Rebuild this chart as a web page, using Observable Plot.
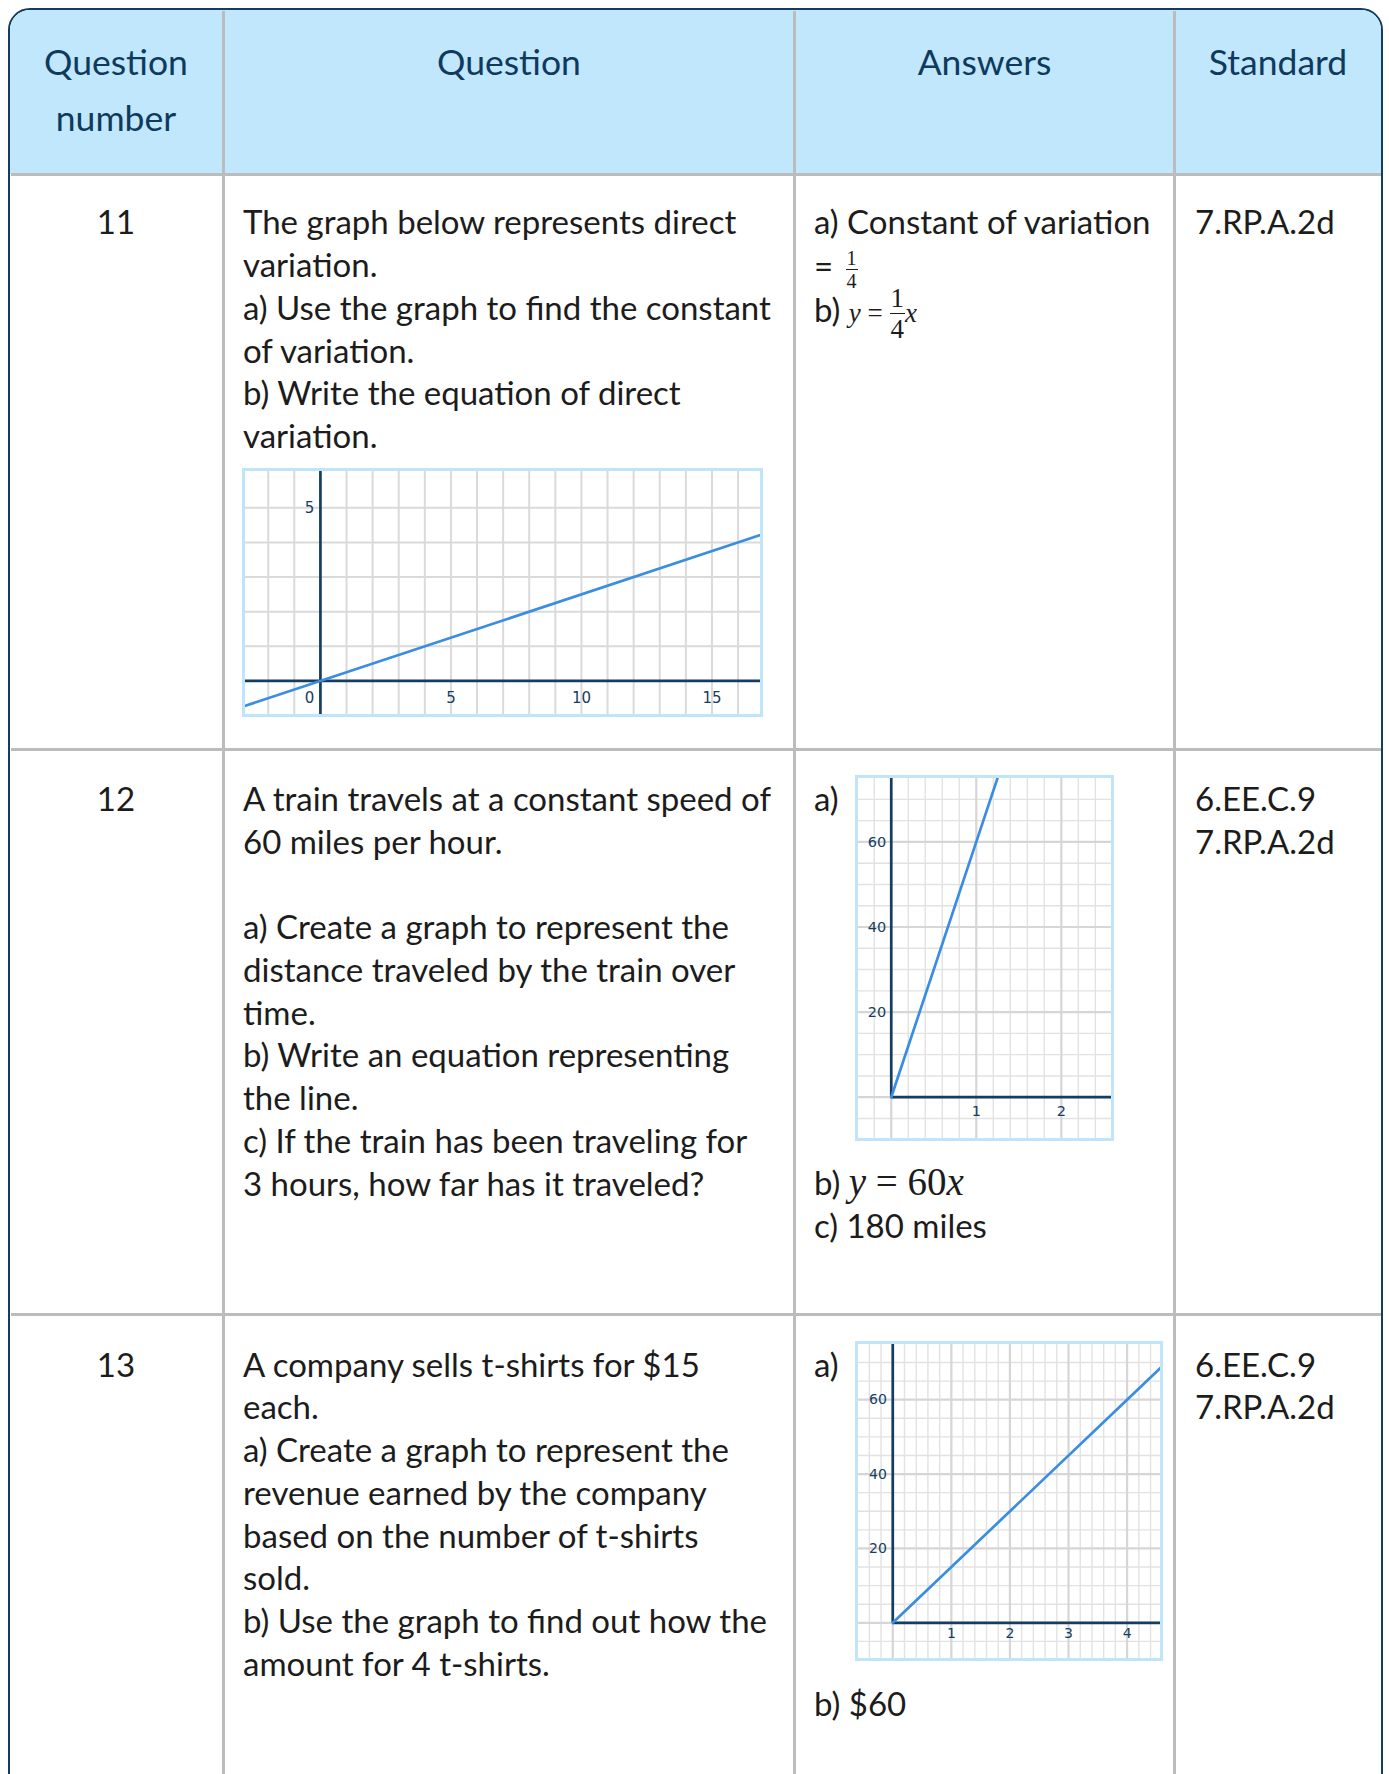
<!DOCTYPE html>
<html><head><meta charset="utf-8">
<script src="https://cdn.jsdelivr.net/npm/d3@7"></script>
<script src="https://cdn.jsdelivr.net/npm/@observablehq/plot@0.6"></script>
<style>
html,body{margin:0;padding:0;background:#fff;}
body{width:1389px;height:1774px;overflow:hidden;position:relative;font-family:Lato,"Open Sans",sans-serif;color:#1c1c1c;}
#tbl{position:absolute;left:8px;top:8px;width:1375px;height:1800px;border:2.5px solid #143c60;border-radius:22px;box-sizing:border-box;overflow:hidden;}
#hdr{position:absolute;left:0;top:0;width:100%;height:163.5px;background:#c0e7fc;}
.vd{position:absolute;width:2.5px;background:#bcbcbc;top:10.5px;height:1770px;}
.hd{position:absolute;height:2.5px;background:#bcbcbc;left:10.5px;width:1370px;}
.blk{position:absolute;white-space:pre;font-size:33px;line-height:42.7px;}
.hdt{position:absolute;white-space:pre;font-size:35.5px;line-height:56px;color:#0f3a5e;text-align:center;}
.gbox{position:absolute;border:3px solid #bfe5fb;box-sizing:border-box;background:#fff;}
.gbox svg{display:block;}
.m{font-family:"Liberation Serif","DejaVu Serif",serif;}
.mi{font-family:"Liberation Serif","DejaVu Serif",serif;font-style:italic;}
.frac{display:inline-flex;flex-direction:column;align-items:center;vertical-align:middle;font-family:"Liberation Serif",serif;}
.frac .n{border-bottom:1.3px solid #1c1c1c;padding:0 1px;}
</style>
</head><body>
<div id="tbl"><div id="hdr"></div></div>
<div class="vd" style="left:222px"></div>
<div class="vd" style="left:793px"></div>
<div class="vd" style="left:1173px"></div>
<div class="hd" style="top:173px"></div>
<div class="hd" style="top:748px"></div>
<div class="hd" style="top:1313px"></div>
<div id="content"></div>
<script>
// ---------- table text ----------
const headers = ["Question\nnumber", "Question", "Answers", "Standard"];
const questionNumbers = ["11", "12", "13"];
const questions = [
  ["The graph below represents direct", "variation.", "a) Use the graph to find the constant", "of variation.", "b) Write the equation of direct", "variation."],
  ["A train travels at a constant speed of", "60 miles per hour.", "", "a) Create a graph to represent the", "distance traveled by the train over", "time.", "b) Write an equation representing", "the line.", "c) If the train has been traveling for", "3 hours, how far has it traveled?"],
  ["A company sells t-shirts for $15", "each.", "a) Create a graph to represent the", "revenue earned by the company", "based on the number of t-shirts", "sold.", "b) Use the graph to find out how the", "amount for 4 t-shirts."]
];
const standards = [["7.RP.A.2d"], ["6.EE.C.9", "7.RP.A.2d"], ["6.EE.C.9", "7.RP.A.2d"]];

// ---------- graph data ----------
// Graph 1 (question 11): y = x/4
const g1LineX = [-3, 17];
const g1LineY = [-0.75, 4.25];
const g1GridX = [-2, -1, 0, 1, 2, 3, 4, 5, 6, 7, 8, 9, 10, 11, 12, 13, 14, 15, 16];
const g1GridY = [0, 1, 2, 3, 4, 5];
const g1XTicks = [5, 10, 15];
const g1YTicks = [5];
// Graph 2 (question 12): distance = 60 * time
const g2LineX = [0, 1, 1.3];
const g2LineY = [0, 60, 78];
const g2MinorX = [-0.2, 0.2, 0.4, 0.6, 0.8, 1.2, 1.4, 1.6, 1.8, 2.2, 2.4];
const g2MajorX = [0, 1, 2];
const g2MinorY = [-5, 5, 10, 15, 25, 30, 35, 45, 50, 55, 65, 70];
const g2MajorY = [0, 20, 40, 60];
const g2XTicks = [1, 2];
const g2YTicks = [20, 40, 60];
// Graph 3 (question 13): revenue = 15 * shirts
const g3LineX = [0, 4, 4.7];
const g3LineY = [0, 60, 70.5];
const g3MinorX = [-0.4, -0.2, 0.2, 0.4, 0.6, 0.8, 1.2, 1.4, 1.6, 1.8, 2.2, 2.4, 2.6, 2.8, 3.2, 3.4, 3.6, 3.8, 4.2, 4.4];
const g3MajorX = [0, 1, 2, 3, 4];
const g3MinorY = [-5, 5, 10, 15, 25, 30, 35, 45, 50, 55, 65, 70];
const g3MajorY = [0, 20, 40, 60];
const g3XTicks = [1, 2, 3, 4];
const g3YTicks = [20, 40, 60];

const navy = "#163d60";
const lineBlue = "#3a8de0";
const content = document.getElementById("content");

function addDiv(cls, left, top, html, extra) {
  const d = document.createElement("div");
  d.className = cls;
  d.style.left = left + "px";
  d.style.top = top + "px";
  if (extra) Object.assign(d.style, extra);
  d.innerHTML = html;
  content.appendChild(d);
  return d;
}

// headers
addDiv("hdt", 10, 34, headers[0], {width: "212px"});
addDiv("hdt", 224, 34, headers[1], {width: "570px"});
addDiv("hdt", 795, 34, headers[2], {width: "379px"});
addDiv("hdt", 1175, 34, headers[3], {width: "206px"});

const rowTops = [200.4, 777.2, 1342.7];
rowTops.forEach((t, i) => {
  addDiv("blk", 10, t, questionNumbers[i], {width: "212px", textAlign: "center"});
  addDiv("blk", 243, t, questions[i].join("\n"));
  addDiv("blk", 1195, t, standards[i].join("\n"));
});

// answers
addDiv("blk", 814, 200.4, "a) Constant of variation");
addDiv("blk", 814, 244, '= <span class="frac" style="font-size:20px;line-height:18px;margin-left:4px;"><span class="n" style="padding-bottom:2px">1</span><span style="padding-top:2px">4</span></span>');
addDiv("blk", 814, 286, 'b) <span class="mi" style="font-size:27px">y</span><span class="m" style="font-size:27px"> = </span><span class="frac" style="font-size:27px;line-height:24px;"><span class="n" style="padding-bottom:3px">1</span><span style="padding-top:3px">4</span></span><span class="mi" style="font-size:27px">x</span>');
addDiv("blk", 814, 777.2, "a)");
addDiv("blk", 814, 1160.6, 'b) <span class="mi" style="font-size:39px">y</span><span class="m" style="font-size:39px"> = 60</span><span class="mi" style="font-size:39px">x</span>');
addDiv("blk", 814, 1203.6, "c) 180 miles");
addDiv("blk", 814, 1342.7, "a)");
addDiv("blk", 814, 1681.6, "b) $60");

// ---------- graphs ----------
function graph(o) {
  const pts = o.lineX.map((x, i) => ({x, y: o.lineY[i]}));
  const marks = [
    Plot.ruleX(o.minorX, {stroke: o.minorC, strokeWidth: o.minorW}),
    Plot.ruleY(o.minorY, {stroke: o.minorC, strokeWidth: o.minorW}),
    Plot.ruleX(o.majorX, {stroke: "#d6d6d6", strokeWidth: 2.2}),
    Plot.ruleY(o.majorY, {stroke: "#d6d6d6", strokeWidth: 2.2}),
    o.fullAxes ? Plot.ruleX([0], {stroke: navy, strokeWidth: 2.7})
               : Plot.ruleX([0], {y1: 0, y2: o.yd[1], stroke: navy, strokeWidth: 2.7}),
    o.fullAxes ? Plot.ruleY([0], {stroke: navy, strokeWidth: 2.7})
               : Plot.ruleY([0], {x1: 0, x2: o.xd[1], stroke: navy, strokeWidth: 2.7}),
    Plot.line(pts, {x: "x", y: "y", stroke: lineBlue, strokeWidth: 2.7, clip: true}),
    Plot.text(o.xTicks, {x: d => d, y: () => o.xLabelY, text: d => String(d), fill: navy, fontSize: o.fs}),
    Plot.text(o.yTicks, {x: () => o.yLabelX, y: d => d, text: d => String(d), fill: navy, fontSize: o.fs, textAnchor: o.yAnchor})
  ];
  if (o.originLabel) marks.push(Plot.text(["0"], {x: () => o.yLabelX, y: () => o.xLabelY, text: d => d, fill: navy, fontSize: o.fs}));
  return Plot.plot({
    width: o.w, height: o.h, margin: 0,
    x: {domain: o.xd, axis: null}, y: {domain: o.yd, axis: null},
    style: {fontFamily: "'DejaVu Sans', Verdana, sans-serif", background: "white", color: navy},
    marks
  });
}
function place(left, top, w, h, svg) {
  const d = document.createElement("div");
  d.className = "gbox";
  Object.assign(d.style, {left: left + "px", top: top + "px", width: w + "px", height: h + "px"});
  d.appendChild(svg);
  content.appendChild(d);
}
place(242, 468, 521, 249, graph({
  w: 515, h: 243, xd: [-2.87, 16.86], yd: [-0.97, 6.05],
  minorX: g1GridX, minorY: g1GridY, majorX: [], majorY: [], minorC: "#dadada", minorW: 2,
  fullAxes: true, lineX: g1LineX, lineY: g1LineY,
  xTicks: g1XTicks, yTicks: g1YTicks, xLabelY: -0.5, yLabelX: -0.42, yAnchor: "middle",
  originLabel: true, fs: 15
}));
place(855, 775, 259, 366, graph({
  w: 253, h: 360, xd: [-0.385, 2.59], yd: [-9.7, 74.9],
  minorX: g2MinorX, minorY: g2MinorY, majorX: g2MajorX, majorY: g2MajorY, minorC: "#e2e2e2", minorW: 1.4,
  fullAxes: false, lineX: g2LineX, lineY: g2LineY,
  xTicks: g2XTicks, yTicks: g2YTicks, xLabelY: -3.3, yLabelX: -0.06, yAnchor: "end",
  originLabel: false, fs: 14.5
}));
place(855, 1341, 308, 320, graph({
  w: 302, h: 314, xd: [-0.585, 4.57], yd: [-9.6, 74.85],
  minorX: g3MinorX, minorY: g3MinorY, majorX: g3MajorX, majorY: g3MajorY, minorC: "#e2e2e2", minorW: 1.4,
  fullAxes: false, lineX: g3LineX, lineY: g3LineY,
  xTicks: g3XTicks, yTicks: g3YTicks, xLabelY: -3.0, yLabelX: -0.1, yAnchor: "end",
  originLabel: false, fs: 14
}));
</script>
</body></html>
